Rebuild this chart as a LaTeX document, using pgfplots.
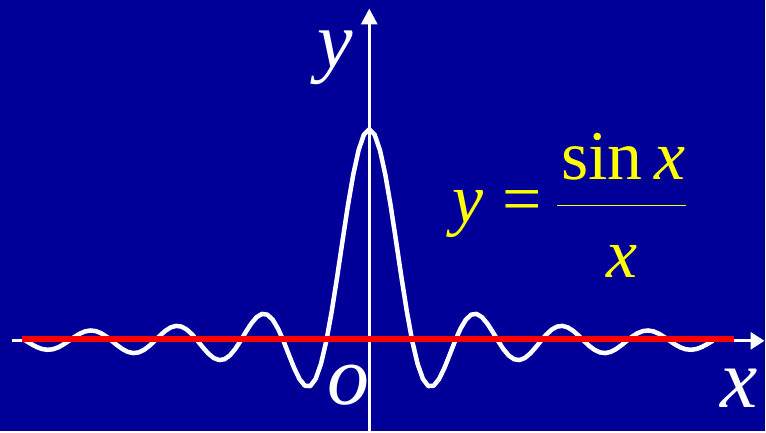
\documentclass[border=0pt]{standalone}
\usepackage{fontspec}
\setmainfont{Liberation Serif}
\usepackage{pgfplots}
\pgfplotsset{compat=1.18}
\usetikzlibrary{arrows.meta}
\definecolor{bgblue}{RGB}{0,0,153}
\definecolor{fyellow}{RGB}{255,255,0}
\begin{document}
\begin{tikzpicture}
\fill[bgblue] (0pt,0pt) rectangle (766pt,432pt);
\begin{axis}[
  at={(0pt,0pt)}, anchor=south west,
  scale only axis, width=766pt, height=432pt,
  xmin=-27.032, xmax=28.932, ymin=-0.42689, ymax=1.61085,
  hide axis, clip=false,
]
\draw[white, line width=3pt, -{Triangle[length=14pt,width=17pt]}] (axis cs:-26.156,0) -- (axis cs:28.932,0);
\draw[white, line width=3pt, -{Triangle[length=16pt,width=16pt]}] (axis cs:0,-0.42689) -- (axis cs:0,1.5708);
\addplot[white, line width=4.5pt, line join=round, line cap=round] coordinates {
(-25.133,0) (-24.740,-0.0155) (-24.347,-0.0290) (-23.955,-0.0386) (-23.562,-0.0424) (-23.169,-0.0399) (-22.777,-0.0310) (-22.384,-0.0171)
(-21.991,0) (-21.598,0.0177) (-21.206,0.0333) (-20.813,0.0444) (-20.420,0.0490) (-20.028,0.0461) (-19.635,0.0360) (-19.242,0.0199)
(-18.850,0) (-18.457,-0.0207) (-18.064,-0.0391) (-17.671,-0.0523) (-17.279,-0.0579) (-16.886,-0.0547) (-16.493,-0.0429) (-16.101,-0.0238)
(-15.708,0) (-15.315,0.0250) (-14.923,0.0474) (-14.530,0.0636) (-14.137,0.0707) (-13.744,0.0672) (-13.352,0.0530) (-12.959,0.0295)
(-12.566,0) (-12.174,-0.0314) (-11.781,-0.0600) (-11.388,-0.0811) (-10.996,-0.0909) (-10.603,-0.0871) (-10.210,-0.0693) (-9.817,-0.0390)
(-9.425,0) (-9.032,0.0424) (-8.639,0.0818) (-8.247,0.1120) (-7.854,0.1273) (-7.461,0.1238) (-7.069,0.1000) (-6.676,0.0573)
(-6.283,0) (-5.890,-0.0650) (-5.498,-0.1286) (-5.105,-0.1810) (-4.712,-0.2122) (-4.320,-0.2139) (-3.927,-0.1801) (-3.534,-0.1083)
(-3.142,0) (-2.749,0.1392) (-2.356,0.3001) (-1.963,0.4705) (-1.571,0.6366) (-1.178,0.7842) (-0.785,0.9003) (-0.393,0.9745)
(0,1)
(0.393,0.9745) (0.785,0.9003) (1.178,0.7842) (1.571,0.6366) (1.963,0.4705) (2.356,0.3001) (2.749,0.1392) (3.142,0)
(3.534,-0.1083) (3.927,-0.1801) (4.320,-0.2139) (4.712,-0.2122) (5.105,-0.1810) (5.498,-0.1286) (5.890,-0.0650) (6.283,0)
(6.676,0.0573) (7.069,0.1000) (7.461,0.1238) (7.854,0.1273) (8.247,0.1120) (8.639,0.0818) (9.032,0.0424) (9.425,0)
(9.817,-0.0390) (10.210,-0.0693) (10.603,-0.0871) (10.996,-0.0909) (11.388,-0.0811) (11.781,-0.0600) (12.174,-0.0314) (12.566,0)
(12.959,0.0295) (13.352,0.0530) (13.744,0.0672) (14.137,0.0707) (14.530,0.0636) (14.923,0.0474) (15.315,0.0250) (15.708,0)
(16.101,-0.0238) (16.493,-0.0429) (16.886,-0.0547) (17.279,-0.0579) (17.671,-0.0523) (18.064,-0.0391) (18.457,-0.0207) (18.850,0)
(19.242,0.0199) (19.635,0.0360) (20.028,0.0461) (20.420,0.0490) (20.813,0.0444) (21.206,0.0333) (21.598,0.0177) (21.991,0)
(22.384,-0.0171) (22.777,-0.0310) (23.169,-0.0399) (23.562,-0.0424) (23.955,-0.0386) (24.347,-0.0290) (24.740,-0.0155) (25.133,0)
};
\addplot[red, line width=5.5pt] coordinates {(-25.425,0.00943) (26.667,0.00943)};
\end{axis}
\node[anchor=base west, inner sep=0pt, white] at (318pt,364pt) {\fontsize{80}{90}\selectfont\itshape y};
\node[anchor=base west, inner sep=0pt, white] at (722pt,24pt) {\fontsize{84}{95}\selectfont\itshape x};
\node[anchor=base west, inner sep=0pt, white] at (328pt,27pt) {\fontsize{84}{95}\selectfont\itshape o};
\node[anchor=base west, inner sep=0pt, fyellow] at (453pt,209pt) {\fontsize{70}{80}\selectfont\itshape y};
\node[anchor=base west, inner sep=0pt, fyellow] at (503pt,209pt) {\fontsize{70}{80}\selectfont =};
\node[anchor=base west, inner sep=0pt, fyellow] at (562pt,252pt) {\fontsize{70}{80}\selectfont sin\hspace{0.17em}\itshape x};
\draw[fyellow, line width=1.5pt] (558pt,226.3pt) -- (687pt,226.3pt);
\node[anchor=base west, inner sep=0pt, fyellow] at (607pt,154pt) {\fontsize{70}{80}\selectfont\itshape x};
\end{tikzpicture}
\end{document}
